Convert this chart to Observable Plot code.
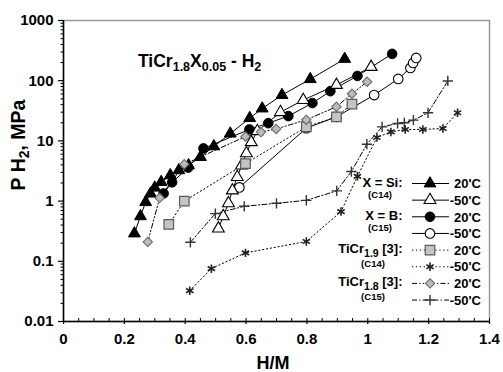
<!DOCTYPE html>
<html>
<head>
<meta charset="utf-8">
<script src="https://cdn.jsdelivr.net/npm/d3@7"></script>
<script src="https://cdn.jsdelivr.net/npm/@observablehq/plot@0.6"></script>
<style>
  body { margin: 0; background: #fff; }
  #chart svg text { font-family: Arial, "Liberation Sans", Helvetica, sans-serif; font-weight: bold; }
</style>
</head>
<body>
<div id="chart"></div>
<script>
// Hydrogen absorption isotherms: H/M ratio vs. hydrogen pressure (MPa)

// TiCr1.8Si0.05 (C14)
const siWarmHM = [0.233, 0.253, 0.270, 0.286, 0.300, 0.321, 0.351, 0.379, 0.411, 0.450, 0.494, 0.548, 0.612, 0.653, 0.718, 0.811, 0.924];
const siWarmP  = [0.29, 0.56, 0.96, 1.33, 1.67, 2.07, 2.68, 3.25, 3.93, 5.4, 8.1, 13.2, 23.9, 34.5, 57.8, 106, 230];
const siColdHM = [0.509, 0.525, 0.542, 0.555, 0.571, 0.585, 0.601, 0.617, 0.637, 0.713, 0.788, 0.897, 1.011];
const siColdP  = [0.35, 0.56, 0.92, 1.5, 2.5, 3.9, 6.2, 9.5, 14.5, 30, 47.7, 85, 169];

// TiCr1.8B0.05 (C15)
const bWarmHM = [0.329, 0.357, 0.410, 0.460, 0.611, 0.673, 0.739, 0.818, 0.877, 0.966, 1.080];
const bWarmP  = [1.34, 2.05, 3.6, 7.5, 15.5, 19.7, 25.8, 42.5, 67, 120, 279];
const bColdHM = [0.578, 0.798, 0.897, 1.021, 1.100, 1.140, 1.149, 1.159];
const bColdP  = [1.69, 16.3, 25.1, 57.8, 107, 163, 197, 239];

// TiCr1.9 [3] (C14)
const cr19WarmHM = [0.346, 0.397, 0.598, 0.798, 0.897, 0.948];
const cr19WarmP  = [0.41, 1.0, 4.2, 17.1, 25.1, 40.9];
const cr19ColdHM = [0.415, 0.486, 0.598, 0.798, 0.912, 0.966, 1.030, 1.076, 1.123, 1.181, 1.247, 1.295];
const cr19ColdP  = [0.0325, 0.0755, 0.138, 0.213, 0.67, 2.58, 11.4, 14.1, 15.5, 15.5, 16.1, 29.3];

// TiCr1.8 [3] (C15)
const cr18WarmHM = [0.277, 0.316, 0.397, 0.598, 0.649, 0.699, 0.798, 0.897, 0.948, 0.998];
const cr18WarmP  = [0.21, 1.13, 4.1, 11.8, 14.0, 15.8, 22.4, 36.9, 60.7, 96];
const cr18ColdHM = [0.417, 0.499, 0.594, 0.700, 0.798, 0.898, 0.946, 0.997, 1.047, 1.098, 1.120, 1.150, 1.198, 1.263];
const cr18ColdP  = [0.207, 0.62, 0.82, 0.92, 1.03, 1.48, 3.1, 8.8, 17.1, 19.5, 20.0, 22.1, 29.3, 99];

// axis ticks and labels
const xTicks = [0, 0.2, 0.4, 0.6, 0.8, 1.0, 1.2, 1.4];
const xTickLabels = ["0", "0.2", "0.4", "0.6", "0.8", "1", "1.2", "1.4"];
const xMinorTicks = d3.range(0, 29).map(i => i * 0.05);
const yTicks = [0.01, 0.1, 1, 10, 100, 1000];
const yTickLabels = ["0.01", "0.1", "1", "10", "100", "1000"];
const yMinorTicks = [0.01, 0.1, 1, 10, 100].flatMap(d => [2, 3, 4, 5, 6, 7, 8, 9].map(k => +(d * k).toPrecision(3)));

// legend text
const temps = ["20'C", "-50'C"];
const groups = [
  { main: ["X = Si:"], sub: "(C14)" },
  { main: ["X = B:"], sub: "(C15)" },
  { main: ["TiCr", "1.9", " [3]:"], sub: "(C14)" },
  { main: ["TiCr", "1.8", " [3]:"], sub: "(C15)" }
];

const pts = (hm, p) => hm.map((h, i) => ({ hm: h, p: p[i] }));

const dotted = "1.3,2.6";
const dashDot = "5,2.2,1.3,2.2";
const dashDotDot = "5,2.2,1.3,2.2,1.3,2.2";

// drawing style for each isotherm, in legend order
const series = [
  { data: pts(siWarmHM, siWarmP), symbol: "triangle", r: 4.4, fill: "#000", stroke: "#000", sw: 1, dash: null },
  { data: pts(siColdHM, siColdP), symbol: "triangle", r: 4.4, fill: "#fff", stroke: "#000", sw: 1.1, dash: null },
  { data: pts(bWarmHM, bWarmP), symbol: "circle", r: 4.8, fill: "#000", stroke: "#000", sw: 1, dash: null },
  { data: pts(bColdHM, bColdP), symbol: "circle", r: 4.8, fill: "#fff", stroke: "#000", sw: 1.1, dash: null },
  { data: pts(cr19WarmHM, cr19WarmP), symbol: "square", r: 5.4, fill: "#c4c4c4", stroke: "#5a5a5a", sw: 1.2, dash: dotted },
  { data: pts(cr19ColdHM, cr19ColdP), symbol: "asterisk", r: 4.0, fill: "none", stroke: "#222", sw: 1.6, dash: dotted },
  { data: pts(cr18WarmHM, cr18WarmP), symbol: "diamond2", r: 4.2, fill: "#bcbcbc", stroke: "#6a6a6a", sw: 1.1, dash: dashDotDot },
  { data: pts(cr18ColdHM, cr18ColdP), symbol: "plus", r: 3.4, fill: "none", stroke: "#333", sw: 1.4, dash: dashDot }
];

const drawOrder = [3, 2, 1, 0, 4, 6, 5, 7];

const chart = Plot.plot({
  width: 503,
  height: 372,
  marginLeft: 63,
  marginRight: 14,
  marginTop: 20,
  marginBottom: 51,
  style: { fontFamily: "Arial, 'Liberation Sans', sans-serif", fontWeight: "bold", fontSize: "15px", background: "#fff" },
  x: { domain: [0, 1.4], label: null },
  y: { type: "log", domain: [0.01, 1000], label: null },
  marks: [
    // frame: light top/right edges, dark axis lines
    Plot.frame({ stroke: "#9a9a9a", strokeWidth: 1.5 }),
    Plot.ruleX([0], { stroke: "#000", strokeWidth: 1.5 }),
    Plot.ruleY([0.01], { stroke: "#000", strokeWidth: 1.3 }),
    // x ticks: small inward minor ticks, major ticks crossing the axis
    Plot.ruleX(xMinorTicks, { x: d => d, insetTop: 298, stroke: "#000", strokeWidth: 1 }),
    Plot.axisX({ ticks: xTicks, tickSize: 3, tickPadding: 9, tickFormat: d => xTickLabels[xTicks.indexOf(d)], strokeWidth: 1.2 }),
    // y ticks
    Plot.axisY({ ticks: yMinorTicks, tickSize: 2.5, tickFormat: () => "", strokeWidth: 1 }),
    Plot.axisY({ ticks: yTicks, tickSize: 5, tickPadding: 5, tickFormat: d => yTickLabels[yTicks.indexOf(d)], strokeWidth: 1.2 }),
    // isotherm lines
    ...series.map(s => Plot.line(s.data, { x: "hm", y: "p", stroke: "#000", strokeWidth: 1, strokeDasharray: s.dash })),
    // markers
    ...drawOrder.map(i => {
      const s = series[i];
      return Plot.dot(s.data, { x: "hm", y: "p", symbol: s.symbol, r: s.r, fill: s.fill, stroke: s.stroke, strokeWidth: s.sw });
    })
  ]
});

document.getElementById("chart").appendChild(chart);

const svg = d3.select(chart);
const font = "Arial, 'Liberation Sans', sans-serif";

// title
const title = svg.append("text").attr("x", 138).attr("y", 67).attr("text-anchor", "start")
  .attr("font-size", 17.5).attr("font-family", font).attr("font-weight", "bold");
title.append("tspan").text("TiCr");
title.append("tspan").attr("font-size", 12.5).attr("dy", 4).text("1.8");
title.append("tspan").attr("dy", -4).text("X");
title.append("tspan").attr("font-size", 12.5).attr("dy", 4).text("0.05");
title.append("tspan").attr("dy", -4).text(" - H");
title.append("tspan").attr("font-size", 12.5).attr("dy", 4).text("2");

// axis titles
svg.append("text").attr("x", 273).attr("y", 369).attr("text-anchor", "middle")
  .attr("font-size", 18).attr("font-family", font).attr("font-weight", "bold").text("H/M");
const yl = svg.append("text").attr("transform", "translate(25,145) rotate(-90)").attr("text-anchor", "middle")
  .attr("font-size", 19.5).attr("font-family", font).attr("font-weight", "bold");
yl.append("tspan").text("P H");
yl.append("tspan").attr("font-size", 14).attr("dy", 4).text("2");
yl.append("tspan").attr("dy", -4).text(", MPa");

// legend
const symbolTypes = {
  triangle: d3.symbolTriangle, circle: d3.symbolCircle, square: d3.symbolSquare,
  asterisk: d3.symbolAsterisk, diamond2: d3.symbolDiamond2, plus: d3.symbolPlus
};
const rowY0 = 183.5, rowStep = 16.65;
const lg = svg.append("g").attr("font-family", font).attr("font-weight", "bold");
series.forEach((s, i) => {
  const y = rowY0 + i * rowStep;
  lg.append("line").attr("x1", 412).attr("x2", 449).attr("y1", y).attr("y2", y)
    .attr("stroke", "#000").attr("stroke-width", 1).attr("stroke-dasharray", s.dash);
  lg.append("path").attr("transform", `translate(430,${y})`)
    .attr("d", d3.symbol(symbolTypes[s.symbol], Math.PI * s.r * s.r)())
    .attr("fill", s.fill).attr("stroke", s.stroke).attr("stroke-width", s.sw);
  lg.append("text").attr("x", 481).attr("y", y + 4.7).attr("text-anchor", "end")
    .attr("font-size", 13).text(temps[i % 2]);
});
groups.forEach((g, j) => {
  const y = rowY0 + 2 * j * rowStep;
  const isAlloy = g.main.length > 1;
  const t = lg.append("text").attr("x", 402.5).attr("y", y + 3).attr("text-anchor", "end").attr("font-size", 13);
  if (isAlloy) {
    t.append("tspan").text(g.main[0]);
    t.append("tspan").attr("font-size", 10.5).attr("dy", 3.5).text(g.main[1]);
    t.append("tspan").attr("dy", -3.5).text(g.main[2]);
  } else {
    t.text(g.main[0]);
  }
  lg.append("text").attr("x", isAlloy ? 373 : 380).attr("y", y + (isAlloy ? 17 : 14))
    .attr("text-anchor", "middle").attr("font-size", 9.5).text(g.sub);
});
</script>
</body>
</html>
